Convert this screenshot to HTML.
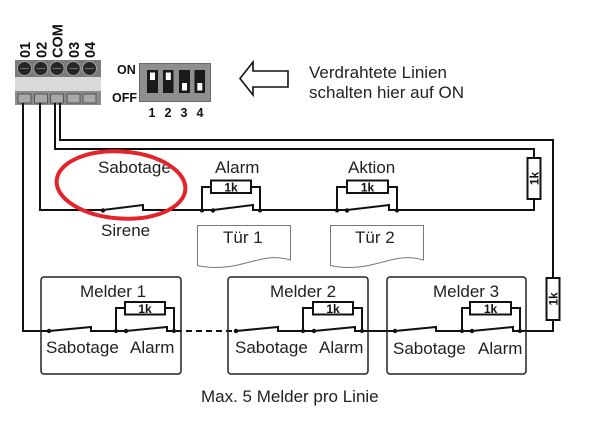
<!DOCTYPE html>
<html><head><meta charset="utf-8"><style>
html,body{margin:0;padding:0;background:#fff;}
svg{display:block;}
text{font-family:"Liberation Sans",Arial,sans-serif;}
</style></head><body>
<svg width="604" height="424" viewBox="0 0 604 424" xmlns="http://www.w3.org/2000/svg">
<rect width="604" height="424" fill="#fff"/>

<!-- Terminal block -->
<rect x="15" y="61" width="86" height="44" fill="#8c8c8c"/>
<rect x="15" y="60" width="86" height="17" fill="#7a7a7a"/>
<g fill="#262626" stroke="#a0a0a0" stroke-width="1">
<circle cx="24.5" cy="68.5" r="7"/><circle cx="40.8" cy="68.5" r="7"/><circle cx="57" cy="68.5" r="7"/><circle cx="73.3" cy="68.5" r="7"/><circle cx="89.5" cy="68.5" r="7"/>
</g>
<g stroke="#6a6a6a" stroke-width="1">
<line x1="20" y1="68.5" x2="29" y2="68.5"/><line x1="36.3" y1="68.5" x2="45.3" y2="68.5"/><line x1="52.5" y1="68.5" x2="61.5" y2="68.5"/><line x1="68.8" y1="68.5" x2="77.8" y2="68.5"/><line x1="85" y1="68.5" x2="94" y2="68.5"/>
</g>
<rect x="15" y="77" width="86" height="14" fill="#d9d9d9"/>
<g fill="#a8a8a8" stroke="#555" stroke-width="1">
<rect x="18" y="94" width="13" height="9"/><rect x="34.5" y="94" width="13" height="9"/><rect x="50.5" y="94" width="13" height="9"/><rect x="67" y="94" width="13" height="9"/><rect x="83" y="94" width="13" height="9"/>
</g>
<g font-weight="bold" font-size="14.5" fill="#111">
<text transform="translate(30,58) rotate(-90)">01</text>
<text transform="translate(46.3,58) rotate(-90)">02</text>
<text transform="translate(62.5,58) rotate(-90)">COM</text>
<text transform="translate(78.8,58) rotate(-90)">03</text>
<text transform="translate(95,58) rotate(-90)">04</text>
</g>

<!-- DIP switch -->
<rect x="139.5" y="63.5" width="71" height="38" fill="#8f8f8f" stroke="#6a6a6a" stroke-width="1"/>
<g fill="#1a1a1a">
<rect x="147" y="70" width="11" height="23"/><rect x="163" y="70" width="10.5" height="23"/><rect x="179" y="70" width="11" height="23"/><rect x="194.5" y="70" width="10.5" height="23"/>
</g>
<g fill="#fff">
<rect x="150" y="72.5" width="5" height="7.5"/><rect x="165.8" y="72.5" width="5" height="7.5"/><rect x="182" y="83" width="5" height="7.5"/><rect x="197.3" y="83" width="5" height="7.5"/>
</g>
<g font-weight="bold" font-size="12.5" fill="#111">
<text x="117" y="74">ON</text>
<text x="112" y="102">OFF</text>
<text x="148.5" y="117">1</text><text x="164.5" y="117">2</text><text x="180.5" y="117">3</text><text x="196.5" y="117">4</text>
</g>

<!-- Hollow arrow -->
<polygon points="240,78.5 253,62 253,71 288,71 288,87 253,87 253,95" fill="#fff" stroke="#111" stroke-width="1.6" stroke-linejoin="miter"/>
<g font-size="17" fill="#222">
<text x="309" y="78">Verdrahtete Linien</text>
<text x="309" y="98">schalten hier auf ON</text>
</g>

<!-- Wires -->
<g fill="none" stroke="#111" stroke-width="2" stroke-linecap="square">
<polyline points="23,104 23,331 49,331"/>
<polyline points="40,104 40,210 103,210"/>
<polyline points="55,104 55,149 534,149 534,158"/>
<polyline points="534,199 534,210 397,210"/>
<polyline points="60,104 60,140 553,140 553,278"/>
<polyline points="553,320 553,331 520,331"/>
<polyline points="103,210 143,205 143,210 202,210"/>
<polyline points="202,210 202,187 211,187"/>
<polyline points="251,187 260,187 260,210"/>
<polyline points="202,210 213,210 253,205 253,210 260,210"/>
<line x1="260" y1="210" x2="337" y2="210"/>
<polyline points="337,210 337,187 347,187"/>
<polyline points="388,187 397,187 397,210"/>
<polyline points="337,210 347,210 389,205 389,210 397,210"/>

<polyline points="49,331 91,327 91,331 116,331"/>
<polyline points="116,331 116,308 125,308"/>
<polyline points="165,308 174,308 174,331"/>
<polyline points="116,331 126,331 167,327 167,331 174,331"/>
<polyline points="236,331 278,327 278,331 303,331"/>
<polyline points="303,331 303,308 313,308"/>
<polyline points="353,308 362,308 362,331"/>
<polyline points="303,331 314,331 355,327 355,331 362,331"/>
<line x1="362" y1="331" x2="395" y2="331"/>
<polyline points="395,331 436,327 436,331 462,331"/>
<polyline points="462,331 462,308 470,308"/>
<polyline points="511,308 520,308 520,331"/>
<polyline points="462,331 472,331 513,327 513,331 520,331"/>
</g>
<line x1="176" y1="331" x2="234" y2="331" stroke="#111" stroke-width="2" stroke-dasharray="6,4"/>

<!-- Resistors -->
<g fill="#fff" stroke="#111" stroke-width="2">
<rect x="211" y="180.5" width="40" height="12.5"/>
<rect x="347" y="180.5" width="41" height="12.5"/>
<rect x="527.5" y="158" width="13" height="41"/>
<rect x="546.5" y="278" width="13" height="42"/>
<rect x="125" y="302" width="40" height="12.5"/>
<rect x="313" y="302" width="40" height="12.5"/>
<rect x="470" y="302" width="41" height="12.5"/>
</g>
<g font-weight="bold" font-size="12" fill="#111" text-anchor="middle">
<text x="231" y="191.5">1k</text>
<text x="367.5" y="191.5">1k</text>
<text x="145" y="313">1k</text>
<text x="333" y="313">1k</text>
<text x="490.5" y="313">1k</text>
<text transform="translate(538.5,178.5) rotate(-90)">1k</text>
<text transform="translate(557.5,299) rotate(-90)">1k</text>
</g>

<!-- Dots -->
<g fill="#111">
<circle cx="103" cy="210.5" r="2.2"/>
<circle cx="202" cy="210.5" r="2"/><circle cx="213" cy="210.5" r="2.2"/><circle cx="260" cy="210.5" r="2"/>
<circle cx="337" cy="210.5" r="2"/><circle cx="347" cy="210.5" r="2.2"/><circle cx="397" cy="210.5" r="2"/>
<circle cx="49" cy="331" r="2.2"/><circle cx="116" cy="331" r="2"/><circle cx="126" cy="331" r="2.2"/><circle cx="174" cy="331" r="2"/>
<circle cx="236" cy="331" r="2.2"/><circle cx="303" cy="331" r="2"/><circle cx="314" cy="331" r="2.2"/><circle cx="362" cy="331" r="2"/>
<circle cx="395" cy="331" r="2.2"/><circle cx="462" cy="331" r="2"/><circle cx="472" cy="331" r="2.2"/><circle cx="520" cy="331" r="2"/>
</g>

<!-- Tür documents -->
<g fill="#fff" stroke="#777" stroke-width="1">
<path d="M197.5,225.5 H290.5 V260 C272,255 262,259 246,263 C228,268 212,269 197.5,265.5 Z"/>
<path d="M330.5,225.5 H423.5 V260 C405,255 395,259 379,263 C361,268 345,269 330.5,265.5 Z"/>
</g>

<!-- Melder boxes -->
<g fill="none" stroke="#222" stroke-width="1.5">
<rect x="41" y="277" width="140" height="97" rx="3"/>
<rect x="228" y="277" width="140" height="97" rx="3"/>
<rect x="387" y="277" width="139" height="97" rx="3"/>
</g>

<!-- Labels -->
<g font-size="17" fill="#222">
<text x="98" y="173">Sabotage</text>
<text x="215" y="173">Alarm</text>
<text x="348" y="173">Aktion</text>
<text x="101" y="236">Sirene</text>
<text x="223" y="243">Tür 1</text>
<text x="355" y="243">Tür 2</text>
<text x="80" y="297">Melder 1</text>
<text x="270" y="297">Melder 2</text>
<text x="433" y="297">Melder 3</text>
<text x="46" y="353">Sabotage</text>
<text x="130" y="353">Alarm</text>
<text x="235" y="353">Sabotage</text>
<text x="319" y="353">Alarm</text>
<text x="393" y="354">Sabotage</text>
<text x="478" y="354">Alarm</text>
<text x="201" y="402">Max. 5 Melder pro Linie</text>
</g>

<!-- Red ellipse -->
<ellipse cx="121" cy="185" rx="64.5" ry="33.5" fill="none" stroke="#e3242b" stroke-width="4" transform="rotate(4 121 185)"/>
</svg>
</body></html>
